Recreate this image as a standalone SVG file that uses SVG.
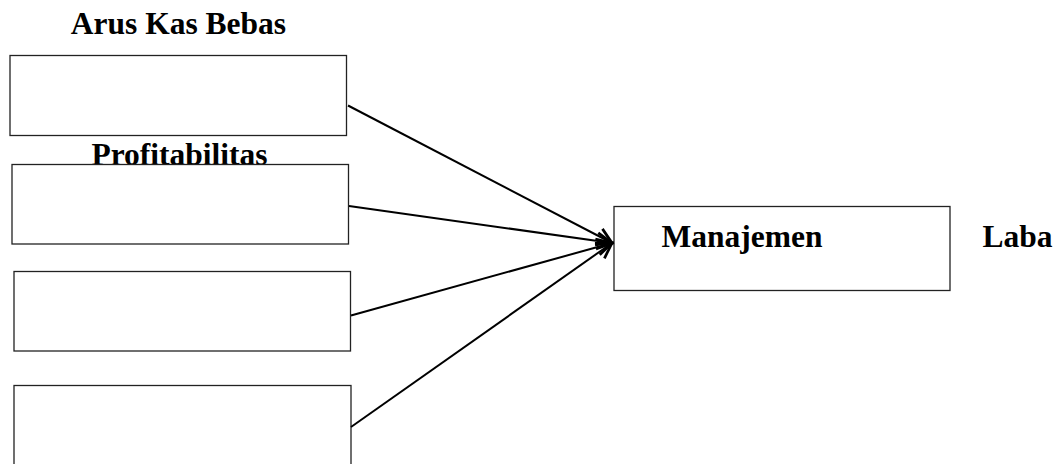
<svg xmlns="http://www.w3.org/2000/svg" width="1062" height="464" viewBox="0 0 1062 464">
<style>
.box{fill:#fff;stroke:#222;stroke-width:1.3}
.lbl{font-family:"Liberation Serif","Times New Roman",serif;font-weight:bold;font-size:31.5px;fill:#000}
.conn{stroke:#000;stroke-width:2;fill:none;marker-end:url(#arr)}
</style>
<defs>
<marker id="arr" markerUnits="userSpaceOnUse" markerWidth="20" markerHeight="20" viewBox="-14 -8 16 16" refX="0" refY="0" orient="auto">
<path d="M-12,-6.5 L0,0 L-12,6.5" fill="none" stroke="#000" stroke-width="2.2"/>
</marker>
</defs>
<g id="node-arus">
<text class="lbl" x="178.5" y="33.5" text-anchor="middle">Arus Kas Bebas</text>
<rect class="box" x="10" y="55.5" width="336.5" height="80"/>
</g>
<g id="node-profit">
<text class="lbl" x="179.5" y="165" text-anchor="middle">Profitabilitas</text>
<rect class="box" x="12" y="164.5" width="336.5" height="79.5"/>
</g>
<g id="node-3">
<rect class="box" x="14" y="271.5" width="336.5" height="79.5"/>
</g>
<g id="node-4">
<rect class="box" x="14" y="385.5" width="337" height="80"/>
</g>
<g id="node-manajemen">
<rect class="box" x="614" y="206.5" width="336" height="84"/>
<text class="lbl" x="661.5" y="246.5">Manajemen</text>
<text class="lbl" x="982.5" y="246.5">Laba</text>
</g>
<g id="connectors">
<line class="conn" x1="348" y1="105.5" x2="612" y2="243"/>
<line class="conn" x1="349" y1="206" x2="612" y2="243"/>
<line class="conn" x1="351" y1="315.5" x2="612" y2="243"/>
<line class="conn" x1="351" y1="427" x2="612" y2="243"/>
</g>
</svg>
